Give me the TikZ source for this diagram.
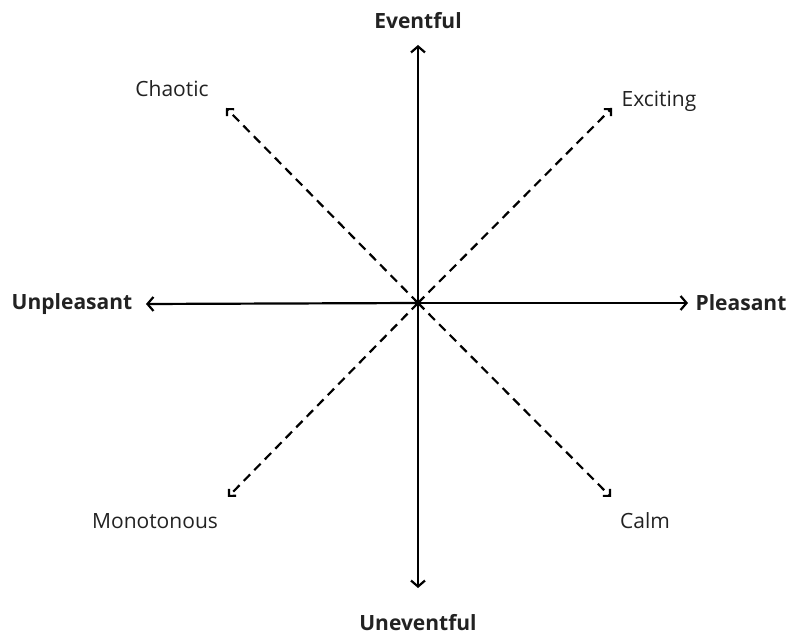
\documentclass[tikz,border=0pt]{standalone}
\usepackage{fontspec}
\setmainfont{Open Sans}
\usetikzlibrary{arrows.meta}
\definecolor{ink}{HTML}{222222}
\tikzset{
  axis/.style={draw=black, line width=2.2pt, -{Straight Barb[length=6pt,width=14pt,line width=2.2pt]}},
  diag/.style={draw=black, line width=2.2pt, dash pattern=on 9pt off 6pt, -{Straight Barb[length=5pt,width=10pt,line width=2.2pt]}},
  strong/.style={font=\fontsize{21}{24}\selectfont\bfseries, text=ink, inner sep=0pt},
  soft/.style={font=\fontsize{21}{24}\selectfont, text=ink, inner sep=0pt}
}
\begin{document}
\begin{tikzpicture}[x=1pt,y=1pt]
  \useasboundingbox (0,0) rectangle (790,635);
  % centre and arrow ends
  \coordinate (o) at (418,332);
  \coordinate (n) at (418,590);
  \coordinate (s) at (418,47);
  \coordinate (w) at (146,331);
  \coordinate (e) at (688,332);
  \coordinate (nw) at (226,527);
  \coordinate (ne) at (612,527);
  \coordinate (sw) at (228,138);
  \coordinate (se) at (611,138);
  % labels
  \node[strong] (lev) at (418,614) {Eventful};
  \node[strong] (lun) at (418,12) {Uneventful};
  \node[strong] (lup) at (72,331) {Unpleasant};
  \node[strong] (lpl) at (741,332) {Pleasant};
  \node[soft] (lch) at (172,546) {Chaotic};
  \node[soft] (lex) at (659,534) {Exciting};
  \node[soft] (lmo) at (155,114) {Monotonous};
  \node[soft] (lca) at (645,114) {Calm};
  % axes
  \draw[axis] (o) -- (n);
  \draw[axis] (o) -- (s);
  \draw[axis] (o) -- (w);
  \draw[axis] (o) -- (e);
  % diagonals
  \draw[diag] (o) -- (nw);
  \draw[diag] (o) -- (ne);
  \draw[diag] (o) -- (sw);
  \draw[diag] (o) -- (se);
\end{tikzpicture}
\end{document}
